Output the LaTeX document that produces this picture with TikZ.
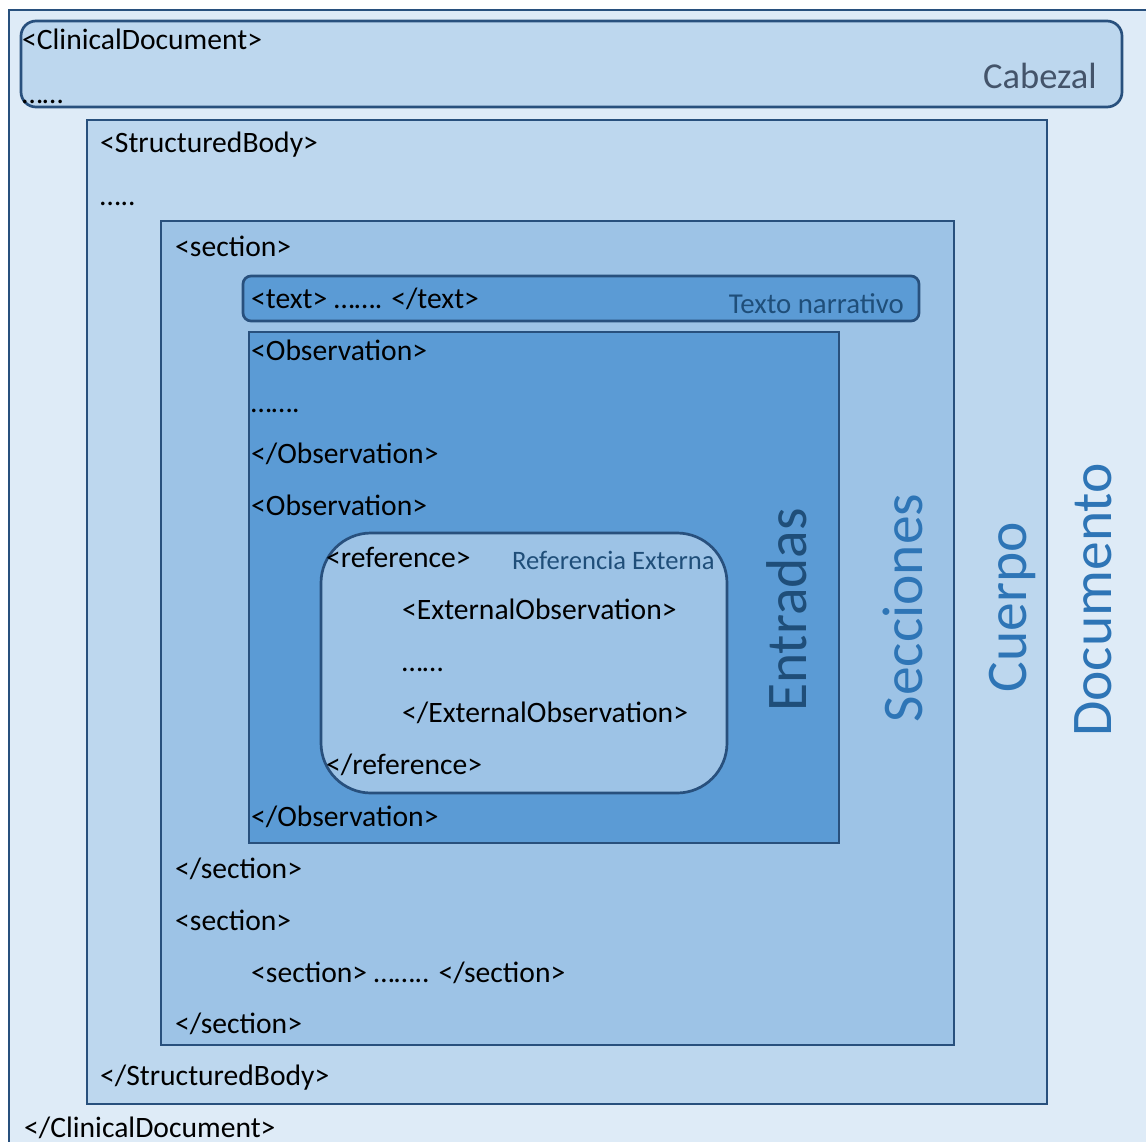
\documentclass[tikz,border=0pt]{standalone}
\usepackage{fontspec}
\setmainfont{Carlito}
\definecolor{bordc}{RGB}{40,80,125}
\definecolor{docfill}{RGB}{222,235,247}
\definecolor{bodyfill}{RGB}{189,215,238}
\definecolor{secfill}{RGB}{157,195,230}
\definecolor{entfill}{RGB}{91,155,213}
\definecolor{lblblue}{RGB}{46,117,182}
\definecolor{lbldark}{RGB}{31,78,121}
\definecolor{lblgray}{RGB}{68,84,106}
\tikzset{
  boxline/.style={draw=bordc, line width=2.7pt},
  tag/.style={anchor=base west, inner sep=0pt, font=\fontsize{29.6}{34}\selectfont, text=black},
  biglbl/.style={rotate=90, anchor=base, inner sep=0pt, font=\fontsize{57.5}{60}\selectfont, text=lblblue},
}
\begin{document}
\begin{tikzpicture}[x=1pt,y=-1pt]
\useasboundingbox (0,0) rectangle (1146,1141);
\clip (0,0) rectangle (1146,1141);
\fill[white] (0,0) rectangle (1146,1141);
% Documento
\draw[boxline, fill=docfill] (9,10) rectangle (1170,1170);
% Cabezal
\draw[boxline, fill=bodyfill, rounded corners=15pt] (21,21) rectangle (1122,107);
% Cuerpo
\draw[boxline, fill=bodyfill] (87,120) rectangle (1047,1104);
% Secciones
\draw[boxline, fill=secfill] (161,221) rectangle (954,1045);
% Texto narrativo
\draw[boxline, fill=entfill, rounded corners=8pt] (243,276) rectangle (919,321);
% Entradas
\draw[boxline, fill=entfill] (249,332) rectangle (839,843);
% Referencia
\draw[boxline, fill=secfill, rounded corners=50pt] (321,533) rectangle (727,793);

% texts
\node[tag] (cd1) at (22,49) {<ClinicalDocument>};
\node[tag] (cd2) at (22,103) {……};
\node[tag] (sb1) at (100,152) {<StructuredBody>};
\node[tag] (sb2) at (100,205) {…..};
\node[tag] (s1) at (175,256) {<section>};
\node[tag] (tx) at (251,308) {<text> ……. </text>};
\node[tag] (o1) at (251,360) {<Observation>};
\node[tag] (o2) at (251,412) {…….};
\node[tag] (o3) at (251,463) {</Observation>};
\node[tag] (o4) at (251,515) {<Observation>};
\node[tag] (r1) at (326,567) {<reference>};
\node[tag] (e1) at (402,619) {<ExternalObservation>};
\node[tag] (e2) at (402,671) {……};
\node[tag] (e3) at (402,722) {</ExternalObservation>};
\node[tag] (r2) at (326,774) {</reference>};
\node[tag] (o5) at (251,826) {</Observation>};
\node[tag] (s2) at (175,878) {</section>};
\node[tag] (s3) at (175,930) {<section>};
\node[tag] (s4) at (251,982) {<section> …….. </section>};
\node[tag] (s5) at (175,1033) {</section>};
\node[tag] (sb3) at (100,1085) {</StructuredBody>};
\node[tag] (cd3) at (24,1137) {</ClinicalDocument>};

% labels
\node[anchor=base east, inner sep=0pt, font=\fontsize{36.5}{40}\selectfont, text=lblgray] (cab) at (1097,88) {Cabezal};
\node[anchor=base east, inner sep=0pt, font=\fontsize{28.8}{32}\selectfont, text=lbldark] (tn) at (904,313) {Texto narrativo};
\node[anchor=base west, inner sep=0pt, font=\fontsize{26.6}{30}\selectfont, text=lbldark] (re) at (512,569) {Referencia Externa};
\node[biglbl, text=lbldark] (ent) at (806,610) {Entradas};
\node[biglbl] (sec) at (922,608) {Secciones};
\node[biglbl] (cue) at (1026,607) {Cuerpo};
\node[biglbl] (doc) at (1111,600) {Documento};
\end{tikzpicture}
\end{document}
